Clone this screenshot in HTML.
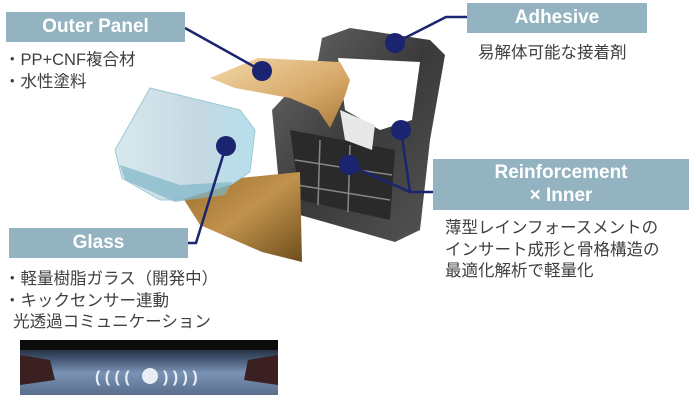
<!DOCTYPE html>
<html><head><meta charset="utf-8"><style>
html,body{margin:0;padding:0;background:#fff;}
body{width:696px;height:401px;position:relative;overflow:hidden;font-family:"Liberation Sans","Noto Sans CJK JP",sans-serif;}
.box{position:absolute;background:#93b3c0;color:#fff;font-weight:bold;font-size:19px;text-align:center;}
.t{position:absolute;color:#404040;font-size:16.5px;line-height:21.5px;white-space:nowrap;}
</style></head><body>
<svg width="696" height="401" style="position:absolute;left:0;top:0">
<defs>
<linearGradient id="gold" x1="0" y1="0" x2="1" y2="1"><stop offset="0" stop-color="#f3d9a8"/><stop offset="0.6" stop-color="#d7a868"/><stop offset="1" stop-color="#a87a3a"/></linearGradient>
<linearGradient id="gold2" x1="0" y1="0" x2="1" y2="1"><stop offset="0" stop-color="#9a6e2c"/><stop offset="0.5" stop-color="#c1924c"/><stop offset="1" stop-color="#6e4e1c"/></linearGradient>
<linearGradient id="glass" x1="0" y1="0" x2="1" y2="0"><stop offset="0" stop-color="#d8e8ee"/><stop offset="0.6" stop-color="#c5d8e2"/><stop offset="1" stop-color="#b6e0ec"/></linearGradient>
<linearGradient id="frame" x1="0" y1="0" x2="1" y2="1"><stop offset="0" stop-color="#6a6a6a"/><stop offset="0.5" stop-color="#3a3a3a"/><stop offset="1" stop-color="#555"/></linearGradient>
<linearGradient id="car" x1="0" y1="0" x2="0" y2="1"><stop offset="0" stop-color="#111"/><stop offset="0.3" stop-color="#3a4c66"/><stop offset="0.6" stop-color="#7a92b4"/><stop offset="1" stop-color="#5a6e8c"/></linearGradient>
</defs>
<!-- dark frame -->
<path d="M322,38 L350,28 L430,40 L445,55 L430,140 L420,230 L395,242 L300,215 L280,195 L272,110 L300,80 L318,60 Z" fill="url(#frame)"/>
<path d="M338,58 L420,62 L412,120 L380,130 L345,110 Z" fill="#fff"/>
<path d="M290,130 L395,150 L390,220 L300,200 Z" fill="#2a2a2a"/>
<g stroke="#888" stroke-width="1.5"><line x1="295" y1="160" x2="392" y2="175"/><line x1="297" y1="185" x2="390" y2="200"/><line x1="320" y1="140" x2="318" y2="205"/><line x1="350" y1="145" x2="348" y2="212"/></g>
<path d="M340,110 L375,125 L372,150 L345,140 Z" fill="#e8e8e8"/>
<!-- lower gold -->
<path d="M178,190 L240,178 L300,172 L302,262 L262,252 L200,225 Z" fill="url(#gold2)"/>
<!-- glass -->
<path d="M150,88 L240,110 L255,130 L250,172 L232,184 L180,200 L160,200 L122,178 L115,150 Z" fill="url(#glass)" stroke="#9cc8d6"/>
<path d="M120,165 L180,185 L232,182 L225,195 L175,202 L125,180 Z" fill="#7fb6c8" opacity="0.7"/>
<!-- outer panel gold -->
<path d="M210,78 L258,58 L340,62 L350,80 L345,96 L330,128 L318,110 L290,98 L235,88 Z" fill="url(#gold)"/>
<!-- lines -->
<g stroke="#1b2470" stroke-width="2.5" fill="none">
<polyline points="185,28 262,71"/>
<polyline points="467,17 446,17 395,43"/>
<polyline points="433,192 410,192 401,130"/>
<polyline points="410,192 349,165"/>
<polyline points="188,243 196,243 226,146"/>
</g>
<g fill="#1b2470">
<circle cx="262" cy="71" r="10"/><circle cx="395" cy="43" r="10"/><circle cx="401" cy="130" r="10"/><circle cx="349" cy="165" r="10"/><circle cx="226" cy="146" r="10"/>
</g>
<!-- car photo -->
<rect x="20" y="340" width="258" height="55" fill="url(#car)"/>
<rect x="20" y="340" width="258" height="10" fill="#0c0c0c"/>
<path d="M20,355 L50,360 L55,380 L20,385 Z" fill="#3a2020"/>
<path d="M278,355 L248,360 L244,380 L278,385 Z" fill="#3a2020"/>
<circle cx="150" cy="376" r="8" fill="#e8eef6"/>
<g fill="#e8eef6" font-size="16" font-family="Liberation Sans" font-weight="bold"><text x="95" y="382">( ( ( (</text><text x="163" y="382">) ) ) )</text></g>
</svg>
<div class="box" style="left:6px;top:12px;width:179px;height:30px;line-height:30px;">Outer Panel</div>
<div class="box" style="left:467px;top:3px;width:180px;height:30px;line-height:30px;">Adhesive</div>
<div class="box" style="left:433px;top:159px;width:256px;height:51px;line-height:23px;padding-top:2px;box-sizing:border-box;">Reinforcement<br>× Inner</div>
<div class="box" style="left:9px;top:228px;width:179px;height:30px;line-height:30px;">Glass</div>
<div class="t" style="left:4px;top:50px;">・PP+CNF複合材<br>・水性塗料</div>
<div class="t" style="left:478px;top:43px;">易解体可能な接着剤</div>
<div class="t" style="left:445px;top:218px;">薄型レインフォースメントの<br>インサート成形と骨格構造の<br>最適化解析で軽量化</div>
<div class="t" style="left:4px;top:269px;">・軽量樹脂ガラス（開発中）<br>・キックセンサー連動<br>&nbsp;&nbsp;光透過コミュニケーション</div>
</body></html>
